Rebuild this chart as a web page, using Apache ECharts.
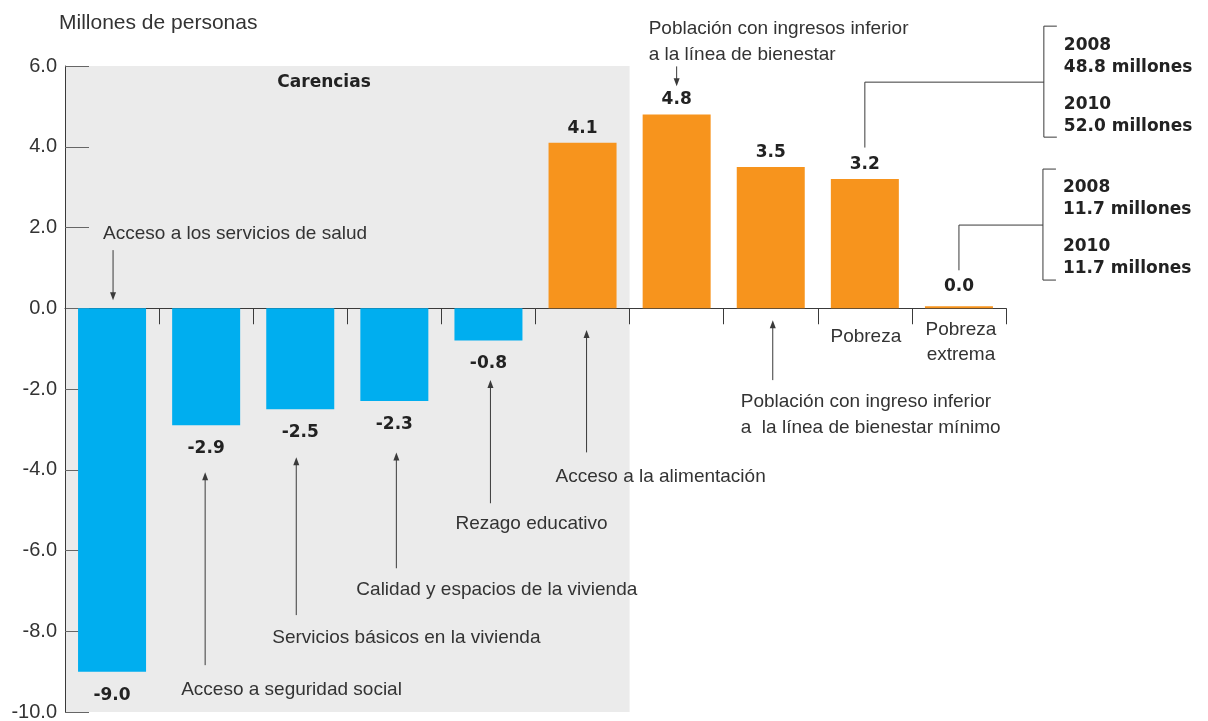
<!DOCTYPE html>
<html>
<head>
<meta charset="utf-8">
<script src="https://cdn.jsdelivr.net/npm/echarts@6/dist/echarts.min.js"></script>
<style>
  html, body { margin: 0; padding: 0; background: #fff; }
  #chart { width: 1208px; height: 721px; }
</style>
</head>
<body>
<div id="chart"></div>
<script>
// datos (millones de personas, cambio 2008-2010)
const categories = [
  "Acceso a los servicios de salud",
  "Acceso a seguridad social",
  "Servicios básicos en la vivienda",
  "Calidad y espacios de la vivienda",
  "Rezago educativo",
  "Acceso a la alimentación",
  "Población con ingresos inferior a la línea de bienestar",
  "Población con ingreso inferior a la línea de bienestar mínimo",
  "Pobreza",
  "Pobreza extrema"
];
const values = [-9.0, -2.9, -2.5, -2.3, -0.8, 4.1, 4.8, 3.5, 3.2, 0.0];
const carenciasCount = 6;
const yTicks = [-10, -8, -6, -4, -2, 0, 2, 4, 6];

const pobrezaTotals = ["2008", "48.8 millones", "2010", "52.0 millones"];
const extremaTotals = ["2008", "11.7 millones", "2010", "11.7 millones"];

const BLUE = "#00AEEF";
const ORANGE = "#F7941D";
const TEXT = "#333333";
const LINE = "#3a3a3a";
const REG = "'Liberation Sans', Arial, sans-serif";
const BOLD = "'DejaVu Sans', sans-serif";

const chart = echarts.init(document.getElementById("chart"));

chart.setOption({
  animation: false,
  title: {
    text: "Millones de personas",
    left: 54,
    top: 8,
    textStyle: { fontFamily: REG, fontSize: 21, fontWeight: "normal", color: TEXT }
  },
  grid: { left: 65, right: 202, top: 66, bottom: 9, outerBoundsMode: "none", containLabel: false },
  xAxis: {
    type: "category",
    data: categories,
    axisLine: { onZero: true, lineStyle: { color: LINE, width: 1 } },
    axisTick: { show: true, length: 16, interval: 0, lineStyle: { color: LINE } },
    axisLabel: { show: false },
    splitLine: { show: false }
  },
  yAxis: {
    type: "value",
    min: yTicks[0],
    max: yTicks[yTicks.length - 1],
    interval: 2,
    axisLine: { show: true, lineStyle: { color: LINE } },
    axisTick: { show: true, inside: true, length: 24, lineStyle: { color: "#666" } },
    axisLabel: {
      margin: 8,
      fontFamily: REG,
      fontSize: 20,
      color: TEXT,
      formatter: v => v.toFixed(1)
    },
    splitLine: { show: false }
  },
  series: [{
    type: "bar",
    barWidth: 68,
    barMinHeight: 2,
    data: values.map(v => ({
      value: v,
      itemStyle: { color: v < 0 ? BLUE : ORANGE },
      label: {
        show: true,
        position: v < 0 ? "bottom" : "top",
        distance: v < 0 ? 15 : (v === 0 ? 11 : 6),
        formatter: p => p.value.toFixed(1),
        fontFamily: BOLD,
        fontWeight: "bold",
        fontSize: 17,
        color: "#222"
      }
    }))
  }]
});

// anotaciones: categoría, flecha (valor cola -> valor punta), desplazamiento del texto
const notes = [
  { cat: 0, from: 1.44, to: 0.2, dx: -10, dy: -16, lines: ["Acceso a los servicios de salud"] },
  { cat: 1, from: -8.84, to: -4.06, dx: -24, dy: 25, lines: ["Acceso a seguridad social"] },
  { cat: 2, from: -7.6, to: -3.69, dx: -24, dy: 23, lines: ["Servicios básicos en la vivienda"] },
  { cat: 3, from: -6.44, to: -3.57, dx: -40, dy: 22, lines: ["Calidad y espacios de la vivienda"] },
  { cat: 4, from: -4.83, to: -1.78, dx: -35, dy: 21, lines: ["Rezago educativo"] },
  { cat: 5, from: -3.57, to: -0.54, dx: -31, dy: 24, lines: ["Acceso a la alimentación"] },
  { cat: 6, from: 5.99, to: 5.5, dx: -28, dy: -38, lines: ["Población con ingresos inferior", "a la línea de bienestar"] },
  { cat: 7, from: -1.78, to: -0.3, dx: -32, dy: 22, lines: ["Población con ingreso inferior", "a  la línea de bienestar mínimo"] }
];
const xShift = [1, -1, -4, 2, 2, 4, 0, 2];

function px(cat, v) {
  return chart.convertToPixel({ gridIndex: 0 }, [cat, v]);
}

const g = [];
const p0 = px(0, 0);
const band = px(1, 0)[0] - p0[0];
const gridLeft = p0[0] - band / 2;
const gridTop = px(0, yTicks[yTicks.length - 1])[1];
const gridBottom = px(0, yTicks[0])[1];
const grayRight = gridLeft + band * carenciasCount;

g.push({
  type: "rect", z: -10, silent: true,
  shape: { x: gridLeft + 1, y: gridTop, width: grayRight - gridLeft - 1, height: gridBottom - gridTop },
  style: { fill: "#EBEBEB" }
});
g.push({
  type: "text", x: (gridLeft + grayRight) / 2 - 70, y: gridTop + 8,
  style: { text: "Carencias", font: "bold 17px " + BOLD, fill: "#222" }
});

notes.forEach((n, k) => {
  const a = px(n.cat, n.from);
  const b = px(n.cat, n.to);
  const x = a[0] + xShift[k];
  const dir = b[1] > a[1] ? 1 : -1;
  g.push({ type: "line", shape: { x1: x, y1: a[1], x2: x, y2: b[1] - dir * 7 }, style: { stroke: LINE, lineWidth: 1 } });
  g.push({
    type: "polygon",
    shape: { points: [[x - 3, b[1] - dir * 8], [x + 3, b[1] - dir * 8], [x, b[1]]] },
    style: { fill: LINE }
  });
  n.lines.forEach((t, j) => {
    g.push({
      type: "text", x: x + n.dx, y: a[1] + n.dy + j * 26,
      style: { text: t, font: "19px " + REG, fill: TEXT, textVerticalAlign: "middle" }
    });
  });
});

// etiquetas de categoría bajo el eje (Pobreza / Pobreza extrema)
[[8, ["Pobreza"], 29], [9, ["Pobreza", "extrema"], 22]].forEach(([cat, lines, dy]) => {
  const p = px(cat, 0);
  lines.forEach((t, j) => {
    g.push({
      type: "text", x: p[0] + (cat === 9 ? 2 : 1), y: p[1] + dy + j * 25,
      style: { text: t, font: "19px " + REG, fill: TEXT, textAlign: "center", textVerticalAlign: "middle" }
    });
  });
});

// llaves de totales
function bracket(cat, fromV, toV, rows) {
  const a = px(cat, fromV);
  const b = px(cat, toV);
  const bx = a[0] + 179 - (cat === 9 ? 95 : 0);
  const cy = b[1];
  g.push({ type: "polyline", shape: { points: [[a[0], a[1]], [a[0], cy], [bx, cy]] }, style: { stroke: LINE, lineWidth: 1, fill: null } });
  g.push({ type: "polyline", shape: { points: [[bx + 13, cy - 56], [bx, cy - 56], [bx, cy + 55], [bx + 13, cy + 55]] }, style: { stroke: LINE, lineWidth: 1, fill: null } });
  const offs = [-37, -15, 22, 44];
  rows.forEach((t, j) => {
    g.push({
      type: "text", x: bx + 20, y: cy + offs[j],
      style: { text: t, font: "bold 17px " + BOLD, fill: "#222", textVerticalAlign: "middle" }
    });
  });
}
bracket(8, 3.98, 5.6, pobrezaTotals);
bracket(9, 0.94, 2.06, extremaTotals);

chart.setOption({ graphic: g });
</script>
</body>
</html>
